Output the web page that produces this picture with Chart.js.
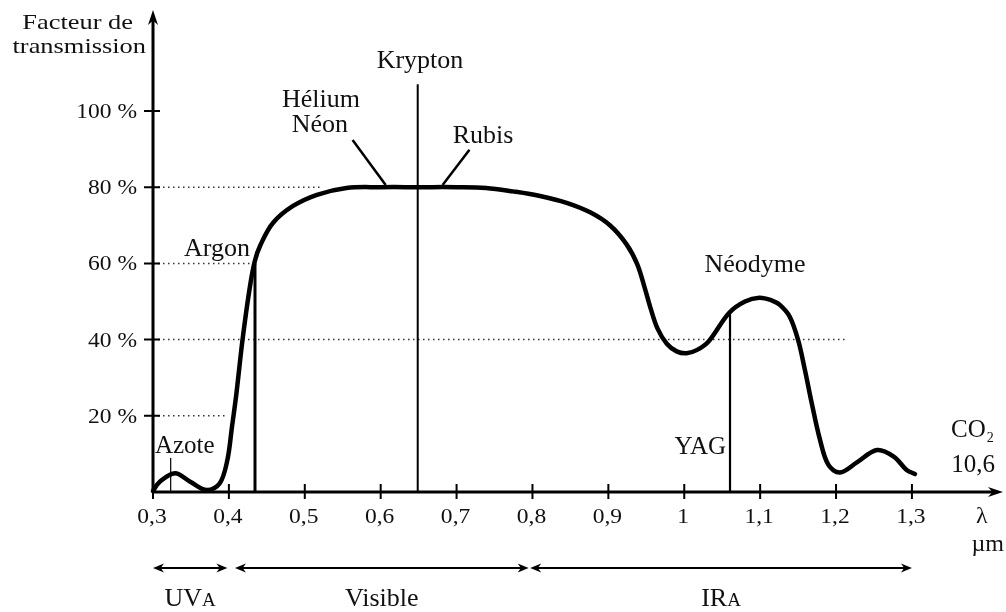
<!DOCTYPE html>
<html>
<head>
<meta charset="utf-8">
<script src="https://cdn.jsdelivr.net/npm/chart.js@4.4.1/dist/chart.umd.min.js"></script>
<style>
  body { margin: 0; background: #fff; }
  #wrap { width: 1006px; height: 612px; position: relative; }
</style>
</head>
<body>
<div id="wrap"><canvas id="transmission-chart"></canvas></div>
<script>
// TRANSMISSION CURVE (wavelength in um, transmission in %)
var wavelengths = [0.300, 0.309, 0.329, 0.349, 0.371, 0.388, 0.398, 0.404, 0.410, 0.418,
  0.427, 0.434, 0.442, 0.458, 0.484, 0.516, 0.555, 0.600, 0.650, 0.700, 0.739, 0.774,
  0.810, 0.845, 0.876, 0.902, 0.924, 0.938, 0.948, 0.956, 0.965, 0.977, 0.990, 1.003,
  1.017, 1.032, 1.059, 1.080, 1.099, 1.115, 1.126, 1.139, 1.150, 1.159, 1.168, 1.179,
  1.190, 1.205, 1.227, 1.254, 1.276, 1.293, 1.304];
var transmission = [0.3, 2.7, 4.9, 2.7, 0.5, 2.3, 8.4, 17, 26, 40,
  53, 60.5, 65, 70.6, 75, 78, 79.8, 80, 80, 80, 79.8, 78.9,
  77.7, 75.9, 73.4, 70.0, 65.0, 59.8, 53.5, 48.0, 42.8, 38.9, 36.9, 36.4,
  37.3, 39.5, 47, 50, 51, 50.3, 49.1, 46, 39.9, 32, 23.3, 13.6,
  7.1, 5.1, 7.7, 11, 9.3, 5.8, 4.7];

// AXES
var xTicks = [0.3, 0.4, 0.5, 0.6, 0.7, 0.8, 0.9, 1.0, 1.1, 1.2, 1.3];
var xTickLabels = ["0,3", "0,4", "0,5", "0,6", "0,7", "0,8", "0,9", "1", "1,1", "1,2", "1,3"];
var yTicks = [20, 40, 60, 80, 100];
var yTickLabels = ["20 %", "40 %", "60 %", "80 %", "100 %"];

// LASER LINES
var laserNames = ["Azote", "Argon", "Krypton", "YAG"];
var laserWavelengths = [0.3233, 0.4344, 0.6488, 1.0603];
var laserHeights = [8.9, 60, 107, 46.9];

// DOTTED REFERENCE LINES
var gridLevels = [20, 40, 60, 80];
var gridEnds = [0.396, 1.212, 0.434, 0.523];

// LEADER LINES (Hélium-Néon, Rubis)
var leaderX = [[0.6066, 0.563], [0.6816, 0.717]];
var leaderY = [[80.6, 92.4], [80.6, 89.8]];

// SPECTRAL BANDS
var bandNames = ["UV", "Visible", "IR"];
var bandSmall = ["A", "", "A"];
var bandStarts = [0.300, 0.408, 0.797];
var bandEnds = [0.398, 0.795, 1.300];

var FONT = '"Liberation Serif", "Times New Roman", serif';
var INK = "#111";

var datasets = [];

datasets.push({
  data: wavelengths.map(function (w, i) { return { x: w, y: transmission[i] }; }),
  borderColor: "#000",
  borderWidth: 4.5,
  tension: 0.35,
  borderCapStyle: "round",
  borderJoinStyle: "round",
  clip: false
});

var laserWidths = { Azote: 1.2, Argon: 3, Krypton: 2, YAG: 2.2 };
laserNames.forEach(function (n, i) {
  datasets.push({
    data: [{ x: laserWavelengths[i], y: 0 }, { x: laserWavelengths[i], y: laserHeights[i] }],
    borderColor: "#000",
    borderWidth: laserWidths[n],
    clip: false
  });
});

leaderX.forEach(function (lx, i) {
  datasets.push({
    data: [{ x: lx[0], y: leaderY[i][0] }, { x: lx[1], y: leaderY[i][1] }],
    borderColor: "#000",
    borderWidth: 2.5,
    clip: false
  });
});

gridLevels.forEach(function (g, i) {
  datasets.push({
    data: [{ x: 0.3, y: g }, { x: gridEnds[i], y: g }],
    borderColor: "#333",
    borderWidth: 1.5,
    borderDash: [1.5, 3.5],
    clip: false
  });
});

function drawText(ctx, str, x, y, size, align, sx) {
  ctx.save();
  ctx.font = size + "px " + FONT;
  ctx.fillStyle = INK;
  ctx.textBaseline = "alphabetic";
  ctx.textAlign = "left";
  var w = ctx.measureText(str).width * sx;
  var x0 = align === "center" ? x - w / 2 : (align === "right" ? x - w : x);
  ctx.translate(x0, y);
  ctx.scale(sx, 1);
  ctx.fillText(str, 0, 0);
  ctx.restore();
  return w;
}

function arrowHead(ctx, x, y, dx, dy, len, half) {
  ctx.beginPath();
  ctx.moveTo(x, y);
  ctx.lineTo(x - dx * len - dy * half, y - dy * len + dx * half);
  ctx.lineTo(x - dx * len * 0.7, y - dy * len * 0.7);
  ctx.lineTo(x - dx * len + dy * half, y - dy * len - dx * half);
  ctx.closePath();
  ctx.fill();
}

var decorations = {
  id: "decorations",
  afterDatasetsDraw: function (chart) {
    var ctx = chart.ctx;
    var xs = chart.scales.x, ys = chart.scales.y;
    var ca = chart.chartArea;
    var x0 = xs.getPixelForValue(0.3), y0 = ys.getPixelForValue(0);
    ctx.save();
    ctx.strokeStyle = "#000";
    ctx.fillStyle = "#000";

    // axes with arrows
    ctx.lineWidth = 3;
    ctx.beginPath();
    ctx.moveTo(x0, y0 + 1);
    ctx.lineTo(x0, ca.top + 10);
    ctx.moveTo(x0 - 1, y0);
    ctx.lineTo(ca.right - 10, y0);
    ctx.stroke();
    arrowHead(ctx, x0, ca.top, 0, -1, 15, 5);
    arrowHead(ctx, ca.right, y0, 1, 0, 15, 5);

    // tick marks crossing the axes
    ctx.lineWidth = 2;
    ctx.beginPath();
    xTicks.forEach(function (v) {
      var px = xs.getPixelForValue(v);
      ctx.moveTo(px, y0 - 8);
      ctx.lineTo(px, y0 + 7);
    });
    yTicks.forEach(function (v) {
      var py = ys.getPixelForValue(v);
      ctx.moveTo(x0 - 9, py);
      ctx.lineTo(x0 + 7, py);
    });
    ctx.stroke();

    // tick labels
    xTicks.forEach(function (v, i) {
      drawText(ctx, xTickLabels[i], xs.getPixelForValue(v) - 1, y0 + 31, 21, "center", 1.12);
    });
    yTicks.forEach(function (v, i) {
      drawText(ctx, yTickLabels[i], x0 - 16, ys.getPixelForValue(v) + 7, 21, "right", 1.12);
    });

    // axis titles
    drawText(ctx, "Facteur de", x0 - 20, 29, 22, "right", 1.2);
    drawText(ctx, "transmission", x0 - 7, 53, 22, "right", 1.2);
    var lx = xs.getPixelForValue(1.392);
    drawText(ctx, "λ", lx, y0 + 31, 24, "center", 1);
    drawText(ctx, "µm", lx + 6, y0 + 59, 24, "center", 1);

    // laser annotations
    drawText(ctx, "Krypton", xs.getPixelForValue(0.6518), ys.getPixelForValue(111.3), 26, "center", 1);
    drawText(ctx, "Hélium", xs.getPixelForValue(0.5213), ys.getPixelForValue(101), 26, "center", 1);
    drawText(ctx, "Néon", xs.getPixelForValue(0.52), ys.getPixelForValue(94.5), 26, "center", 1);
    drawText(ctx, "Rubis", xs.getPixelForValue(0.7348), ys.getPixelForValue(91.6), 26, "center", 1);
    drawText(ctx, "Argon", xs.getPixelForValue(0.4278), ys.getPixelForValue(61.9), 26, "right", 1);
    drawText(ctx, "Azote", xs.getPixelForValue(0.3026), ys.getPixelForValue(10.2), 25, "left", 1);
    drawText(ctx, "Néodyme", xs.getPixelForValue(1.0932), ys.getPixelForValue(57.7), 26, "center", 1);
    drawText(ctx, "YAG", xs.getPixelForValue(1.055), ys.getPixelForValue(10), 25, "right", 1);
    var cx = xs.getPixelForValue(1.3515), cy = ys.getPixelForValue(14.4);
    var cw = drawText(ctx, "CO", cx, cy, 25, "left", 1);
    drawText(ctx, "2", cx + cw + 1, cy + 5, 14, "left", 1);
    drawText(ctx, "10,6", xs.getPixelForValue(1.4094), ys.getPixelForValue(5.2), 25, "right", 1);

    // spectral band arrows
    var ay = y0 + 76;
    ctx.lineWidth = 2;
    bandNames.forEach(function (n, i) {
      var a = xs.getPixelForValue(bandStarts[i]), b = xs.getPixelForValue(bandEnds[i]);
      ctx.beginPath();
      ctx.moveTo(a + 4, ay);
      ctx.lineTo(b - 4, ay);
      ctx.stroke();
      arrowHead(ctx, a, ay, -1, 0, 11, 4.5);
      arrowHead(ctx, b, ay, 1, 0, 11, 4.5);
      // label, with small capital subscript letter
      var mid = (a + b) / 2;
      ctx.font = "26px " + FONT;
      var w1 = ctx.measureText(n).width;
      ctx.font = "19px " + FONT;
      var w2 = bandSmall[i] ? ctx.measureText(bandSmall[i]).width : 0;
      var left = mid - (w1 + w2) / 2;
      drawText(ctx, n, left, y0 + 114, 26, "left", 1);
      if (bandSmall[i]) drawText(ctx, bandSmall[i], left + w1, y0 + 114, 19, "left", 1);
    });
    ctx.restore();
  }
};

var ctx = document.getElementById("transmission-chart").getContext("2d");
var myTransmissionChart = new Chart(ctx, {
  type: "line",
  data: { datasets: datasets },
  options: {
    responsive: true,
    maintainAspectRatio: false,
    animation: false,
    layout: { padding: { left: 153, right: 3, top: 10, bottom: 120 } },
    elements: { point: { radius: 0 } },
    plugins: {
      legend: { display: false },
      tooltip: { enabled: false }
    },
    scales: {
      x: { type: "linear", min: 0.3, max: 1.42, display: false },
      y: { type: "linear", min: 0, max: 126.5, display: false }
    }
  },
  plugins: [decorations]
});
</script>
</body>
</html>
